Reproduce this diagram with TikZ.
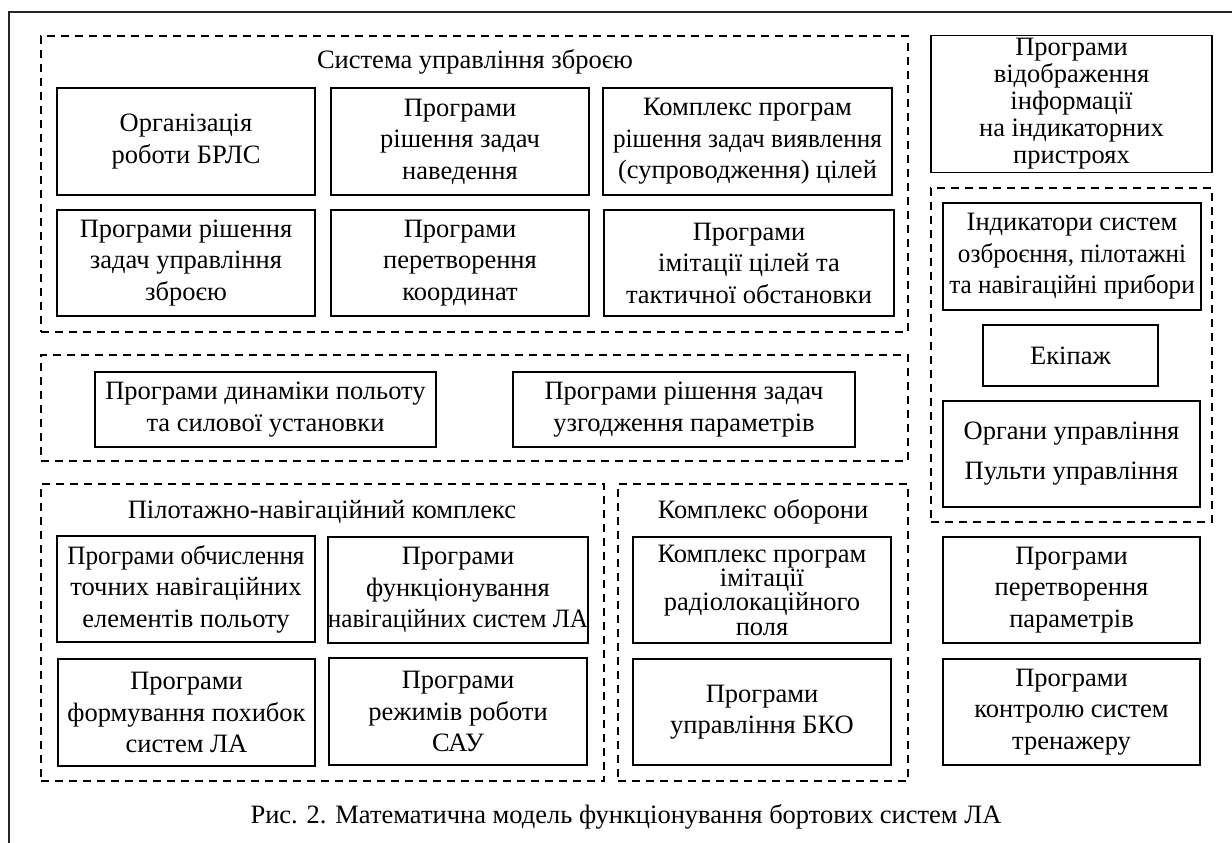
\documentclass[tikz,border=0pt]{standalone}
\usepackage{graphicx}
\usepackage{fontspec}
\setmainfont{Liberation Serif}
\newcommand{\bfs}{\fontsize{26.5}{31.5}\selectfont}
\newcommand{\sqz}[1]{\scalebox{0.95}[1]{#1}}
\begin{document}
\begin{tikzpicture}[x=1pt,y=-1pt,
  box/.style={draw, line width=1.5pt, inner sep=0pt, align=center, font=\bfs},
  grp/.style={draw, line width=1.5pt, dash pattern=on 8pt off 6pt, inner sep=0pt},
  ttl/.style={inner sep=0pt, font=\bfs}]
\useasboundingbox (0,0) rectangle (1232,843);
\draw[line width=1.6pt, black!85] (9,843) -- (9,12) -- (1232,12);
% groups
\node[grp, minimum width=867pt, minimum height=296pt] (gA) at (474.5,184) {};
\node[grp, minimum width=281pt, minimum height=334pt] (gB) at (1071.5,355) {};
\node[grp, minimum width=867pt, minimum height=106pt] (gC) at (474.5,408) {};
\node[grp, minimum width=563pt, minimum height=297pt] (gD) at (322.5,632.5) {};
\node[grp, minimum width=290pt, minimum height=297pt] (gE) at (763,632.5) {};
% titles
\node[ttl] (tA) at (475,62) {Система управління зброєю};
\node[ttl] (tD) at (322,512) {Пілотажно-навігаційний комплекс};
\node[ttl] (tE) at (763,512) {Комплекс оборони};
% group A
\node[box, minimum width=258pt, minimum height=107pt] (a1) at (186,141.5) {Організація\\роботи БРЛС};
\node[box, minimum width=258pt, minimum height=107pt] (a2) at (460,141.5) {Програми\\рішення задач\\наведення};
\node[box, minimum width=289pt, minimum height=107pt] (a3) at (747.5,141.5) {Комплекс програм\\\sqz{рішення задач виявлення}\\(супроводження) цілей};
\node[box, minimum width=258pt, minimum height=106pt] (a4) at (186,263) {Програми рішення\\задач управління\\зброєю};
\node[box, minimum width=258pt, minimum height=106pt] (a5) at (460,263) {Програми\\перетворення\\координат};
\node[box, minimum width=290pt, minimum height=106pt] (a6) at (749,263) {Програми\\імітації цілей та\\тактичної обстановки};
% right column
\node[box, minimum width=281pt, minimum height=137pt, font=\fontsize{26.5}{27}\selectfont] (r1) at (1071.5,104) {Програми\\відображення\\інформації\\на індикаторних\\пристроях};
\node[box, minimum width=258pt, minimum height=107pt] (b1) at (1072,256.5) {Індикатори систем\\\sqz{озброєння, пілотажні}\\\sqz{та навігаційні прибори}};
\node[box, minimum width=175pt, minimum height=61pt] (b2) at (1070.5,355.5) {Екіпаж};
\node[box, minimum width=257pt, minimum height=106pt, font=\fontsize{26.5}{40}\selectfont] (b3) at (1071.5,454) {Органи управління\\Пульти управління};
\node[box, minimum width=257pt, minimum height=106pt] (r2) at (1071.5,590) {Програми\\перетворення\\параметрів};
\node[box, minimum width=257pt, minimum height=106pt] (r3) at (1071.5,712) {Програми\\контролю систем\\тренажеру};
% group C
\node[box, minimum width=341pt, minimum height=75pt] (c1) at (265.5,409.5) {Програми динаміки польоту\\та силової установки};
\node[box, minimum width=342pt, minimum height=75pt] (c2) at (684,409.5) {Програми рішення задач\\узгодження параметрів};
% group D
\node[box, minimum width=258pt, minimum height=106pt] (d1) at (186,589) {\sqz{Програми обчислення}\\точних навігаційних\\елементів польоту};
\node[box, minimum width=258pt, minimum height=106pt] (d2) at (458,590) {Програми\\функціонування\\\sqz{навігаційних систем ЛА}};
\node[box, minimum width=257pt, minimum height=107pt] (d3) at (186.5,712.5) {Програми\\формування похибок\\систем ЛА};
\node[box, minimum width=258pt, minimum height=107pt] (d4) at (458,711.5) {Програми\\режимів роботи\\САУ};
% group E
\node[box, minimum width=258pt, minimum height=106pt, font=\fontsize{26.5}{24.3}\selectfont] (e1) at (762,590) {Комплекс програм\\імітації\\радіолокаційного\\поля};
\node[box, minimum width=258pt, minimum height=106pt] (e2) at (762,712) {Програми\\управління БКО};
% caption
\node[ttl] (cap) at (626,817) {Рис. 2. Математична модель функціонування бортових систем ЛА};
\end{tikzpicture}
\end{document}
